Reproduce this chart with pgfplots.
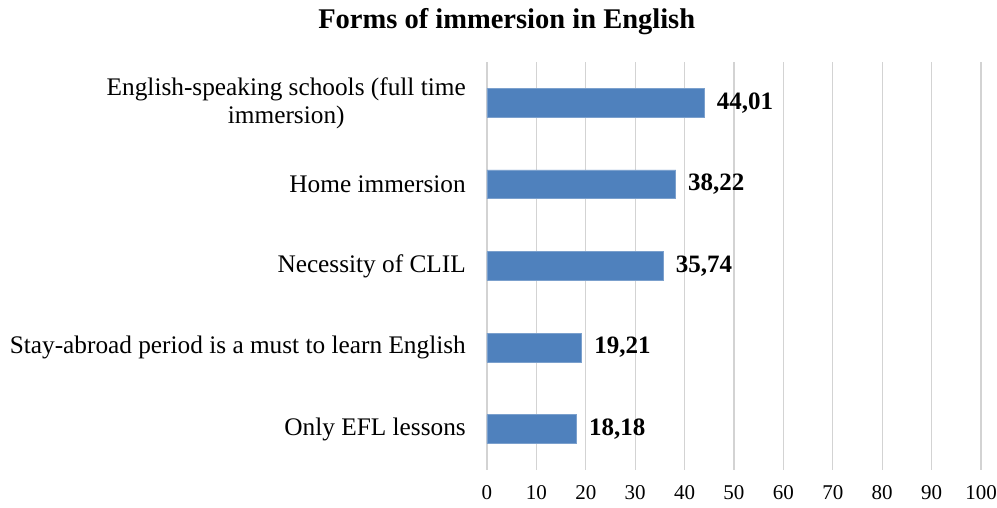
\documentclass[border=0pt]{standalone}
\usepackage{fontspec}
\setmainfont{Liberation Serif}
\usepackage{pgfplots}
\pgfplotsset{compat=1.18}
\definecolor{barblue}{HTML}{4F81BD}
\definecolor{gridgray}{HTML}{D3D3D3}
\begin{document}
\begin{tikzpicture}[x=1pt,y=1pt]
\useasboundingbox (0,0) rectangle (997,508);
\begin{axis}[
  at={(487pt,38pt)}, anchor=south west,
  scale only axis, width=494pt, height=408pt,
  xbar, bar width=0.355,
  xmin=0, xmax=100, xtick={0,10,...,100},
  ymin=-0.5, ymax=4.5, ytick={0,1,2,3,4},
  yticklabels={Only EFL lessons, Stay-abroad period is a must to learn English, Necessity of CLIL, Home immersion, {English-speaking schools (full time\\immersion)}},
  yticklabel style={align=center, inner sep=0pt, font=\fontsize{25.3}{28}\selectfont},
  yticklabel shift=21pt,
  xticklabel style={inner sep=0pt, font=\fontsize{21}{24}\selectfont},
  xticklabel shift=15pt,
  /pgf/number format/assume math mode=true,
  axis line style={draw=none},
  major tick length=0pt,
  xmajorgrids, grid style={color=gridgray, line width=1.2pt},
  title={\textbf{Forms of immersion in English}},
  title style={at={(axis description cs:0.04,1)}, anchor=center, yshift=34pt, font=\fontsize{28.5}{32}\selectfont},
  nodes near coords={\pgfmathprintnumber[fixed, fixed zerofill, precision=2, use comma, assume math mode=true]{\pgfplotspointmeta}},
  nodes near coords style={anchor=west, inner sep=0pt, xshift=12pt, font=\bfseries\fontsize{25}{28}\selectfont},
  point meta=explicit,
]
\addplot[fill=barblue, draw=barblue!75!white, line width=0.8pt] coordinates {
  (18.18,0) [18.18]
  (19.21,1) [19.21]
  (35.74,2) [35.74]
  (38.22,3) [38.22]
  (44.01,4) [44.01]
};
\end{axis}
\end{tikzpicture}
\end{document}
